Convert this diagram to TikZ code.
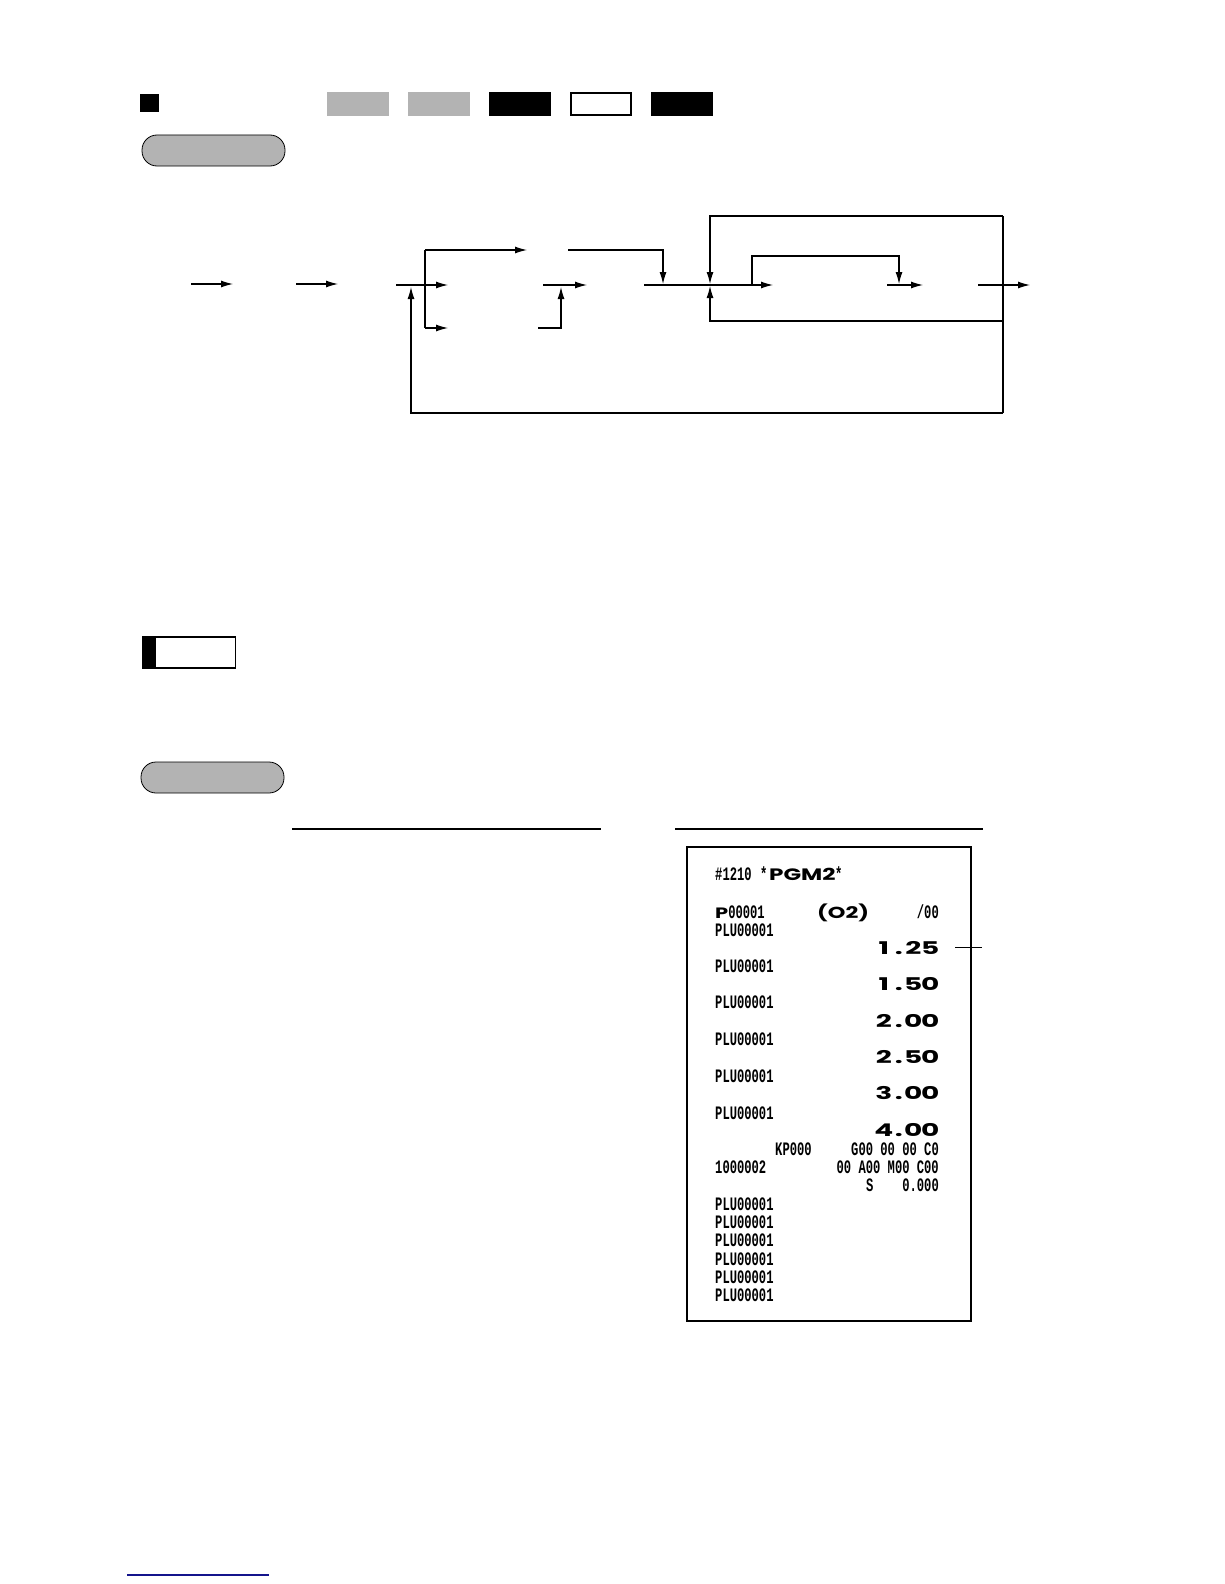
\documentclass[tikz,border=0pt]{standalone}
\usepackage{fontspec}
\setmainfont{Liberation Sans}
\newfontfamily\rcpt[FakeStretch=0.64]{Liberation Mono}
\newfontfamily\wide[FakeStretch=1.4]{Poppins}
\newfontfamily\wider[FakeStretch=1.6]{Poppins}
\usetikzlibrary{arrows.meta}
\definecolor{keygray}{RGB}{179,179,179}
\definecolor{linkblue}{RGB}{20,20,140}
\newcommand{\amt}[4]{\makebox[18pt][c]{#1}\makebox[12pt][c]{.}\makebox[17pt][c]{#3}\makebox[17pt][c]{#4}}
\tikzset{
  flow/.style={line width=1.1pt},
  arr/.style={flow,-{Latex[length=12pt,width=7pt]}},
  keybox/.style={minimum width=62pt,minimum height=24pt,inner sep=0pt},
  pill/.style={draw,line width=0.8pt,fill=keygray,rounded corners=15pt,minimum width=143pt,minimum height=31pt,inner sep=0pt},
  small/.style={inner sep=0pt,font=\rcpt\bfseries\fontsize{19}{20}\selectfont},
  big/.style={inner sep=0pt,font=\wider\bfseries\fontsize{17.5}{18}\selectfont},
  mid/.style={inner sep=0pt,font=\wide\bfseries\fontsize{16.5}{16}\selectfont}
}
\begin{document}
\begin{tikzpicture}[x=1pt,y=-1pt]
\useasboundingbox (0,0) rectangle (1224,1584);
% header
\node[fill=black,minimum width=19pt,minimum height=18pt,inner sep=0pt] (sq) at (149.5,103) {};
\node[keybox,fill=keygray] (k1) at (358,104) {};
\node[keybox,fill=keygray] (k2) at (439,104) {};
\node[keybox,fill=black] (k3) at (520,104) {};
\node[keybox,draw,line width=1.5pt,minimum width=60pt,minimum height=22pt] (k4) at (601,104) {};
\node[keybox,fill=black] (k5) at (682,104) {};
\node[pill] (p1) at (213.5,150.5) {};
% flow coordinates
\coordinate (a1s) at (191,284); \coordinate (a1e) at (233,284);
\coordinate (a2s) at (296,284); \coordinate (a2e) at (338,284);
\coordinate (m1s) at (396,285); \coordinate (m1e) at (448,285);
\coordinate (brt) at (425,250); \coordinate (brb) at (425,328);
\coordinate (t1e) at (527,250); \coordinate (b1e) at (448,328);
\coordinate (c1s) at (538,328); \coordinate (c1k) at (561,328); \coordinate (c1e) at (561,287);
\coordinate (m2s) at (543,285); \coordinate (m2e) at (587,285);
\coordinate (t2s) at (568,250); \coordinate (t2k) at (663,250); \coordinate (t2e) at (663,284);
\coordinate (m3s) at (644,285); \coordinate (m3e) at (773,285);
\coordinate (L1) at (1003,216); \coordinate (L1k) at (710,216); \coordinate (L1e) at (710,284);
\coordinate (L2) at (1003,321); \coordinate (L2k) at (710,321); \coordinate (L2e) at (710,286);
\coordinate (L3) at (1003,413); \coordinate (L3k) at (411,413); \coordinate (L3e) at (411,287);
\coordinate (i0) at (752,285); \coordinate (i1) at (752,256); \coordinate (i2) at (899,256); \coordinate (i3) at (899,284);
\coordinate (m4s) at (887,285); \coordinate (m4e) at (923,285);
\coordinate (o1s) at (978,285); \coordinate (o1e) at (1030,285);
% flow connectors
\draw[arr] (a1s) -- (a1e);
\draw[arr] (a2s) -- (a2e);
\draw[arr] (m1s) -- (m1e);
\draw[flow] (brt) -- (brb);
\draw[arr] (brt) -- (t1e);
\draw[arr] (brb) -- (b1e);
\draw[arr] (c1s) -- (c1k) -- (c1e);
\draw[arr] (m2s) -- (m2e);
\draw[arr] (t2s) -- (t2k) -- (t2e);
\draw[arr] (m3s) -- (m3e);
\draw[flow] (L1) -- (L3);
\draw[arr] (L1) -- (L1k) -- (L1e);
\draw[arr] (L2) -- (L2k) -- (L2e);
\draw[arr] (L3) -- (L3k) -- (L3e);
\draw[arr] (i0) -- (i1) -- (i2) -- (i3);
\draw[arr] (m4s) -- (m4e);
\draw[arr] (o1s) -- (o1e);
% note box
\node[draw,line width=1.5pt,minimum width=93pt,minimum height=31pt,inner sep=0pt] (note) at (189,652.5) {};
\fill (note.north west) rectangle ([xshift=14pt]note.south west);
% second pill
\node[pill] (p2) at (212.5,777.5) {};
% column rules
\coordinate (r1a) at (292,829); \coordinate (r1b) at (601,829);
\coordinate (r2a) at (675,829); \coordinate (r2b) at (983,829);
\draw[line width=1.3pt] (r1a) -- (r1b);
\draw[line width=1.3pt] (r2a) -- (r2b);
% receipt
\node[draw,line width=1.2pt,minimum width=284pt,minimum height=474pt,inner sep=0pt] (rc) at (829,1084) {};
\node[small,anchor=base west] (h1) at (715,880) {\#1210};
\node[small,anchor=base west] (h2a) at (760,880) {*};
\node[mid,anchor=base west] (h2) at (769,880) {PGM2};
\node[small,anchor=base west] (h2b) at (835,880) {*};
\node[anchor=base west,inner sep=0pt] (p0) at (715,918.5) {{\wide\bfseries\fontsize{15}{16}\selectfont P}{\rcpt\bfseries\fontsize{19}{20}\selectfont 00001}};
\node[inner sep=0pt,font=\wide\bfseries\fontsize{16}{16}\selectfont,anchor=base west] (o2) at (817,918.5) {(O2)};
\node[small,anchor=base east] (s00) at (939,918.5) {/00};
\node[small,anchor=base west] (l1) at (715,936) {PLU00001};
\node[big,anchor=base east] (v1) at (939,954) {\amt1.25};
\node[small,anchor=base west] (l2) at (715,972.5) {PLU00001};
\node[big,anchor=base east] (v2) at (939,990) {\amt1.50};
\node[small,anchor=base west] (l3) at (715,1008.5) {PLU00001};
\node[big,anchor=base east] (v3) at (939,1027) {\amt2.00};
\node[small,anchor=base west] (l4) at (715,1045) {PLU00001};
\node[big,anchor=base east] (v4) at (939,1063) {\amt2.50};
\node[small,anchor=base west] (l5) at (715,1082) {PLU00001};
\node[big,anchor=base east] (v5) at (939,1099) {\amt3.00};
\node[small,anchor=base west] (l6) at (715,1119) {PLU00001};
\node[big,anchor=base east] (v6) at (939,1136) {\amt4.00};
\node[small,anchor=base west] (kp) at (775,1155) {KP000};
\node[small,anchor=base east] (g0) at (939,1155) {G00 00 00 C0};
\node[small,anchor=base west] (n2) at (715,1173) {1000002};
\node[small,anchor=base east] (a0) at (939,1173) {00 A00 M00 C00};
\node[small,anchor=base west] (ss) at (866,1191.5) {S};
\node[small,anchor=base east] (z0) at (939,1191.5) {0.000};
\node[small,anchor=base west] (q1) at (715,1210) {PLU00001};
\node[small,anchor=base west] (q2) at (715,1228.5) {PLU00001};
\node[small,anchor=base west] (q3) at (715,1246.5) {PLU00001};
\node[small,anchor=base west] (q4) at (715,1265) {PLU00001};
\node[small,anchor=base west] (q5) at (715,1283.5) {PLU00001};
\node[small,anchor=base west] (q6) at (715,1301.5) {PLU00001};
\draw[line width=1pt] ([xshift=16pt]v1.east) -- ++(27,0) coordinate (lead);
% bottom link line
\coordinate (bl1) at (127,1575); \coordinate (bl2) at (269,1575);
\draw[linkblue,line width=1.3pt] (bl1) -- (bl2);
\end{tikzpicture}
\end{document}
